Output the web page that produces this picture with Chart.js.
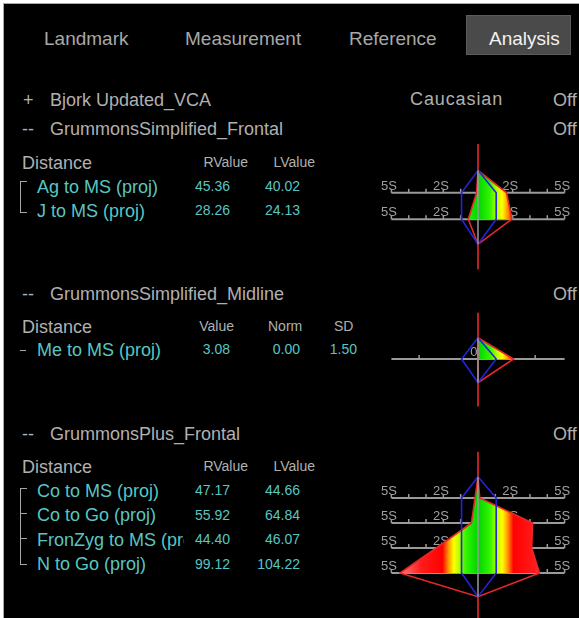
<!DOCTYPE html>
<html>
<head>
<meta charset="utf-8">
<script src="https://cdn.jsdelivr.net/npm/chart.js@4.4.0/dist/chart.umd.min.js"></script>
<style>
html, body { margin: 0; padding: 0; width: 579px; height: 618px; overflow: hidden; background: #fff; }
#panel { position: absolute; left: 3px; top: 3px; width: 576px; height: 615px; background: #000; border-left: 1px solid #a8a8a8; border-top: 1px solid #a8a8a8; }
.t { position: absolute; white-space: nowrap; font-family: "Liberation Sans", Arial, sans-serif; }
#tab { position: absolute; left: 466px; top: 15px; width: 103px; height: 38px; background: #4a4a4a; border: 1px solid #5c5c5c; }
.br { position: absolute; border-color: #a8a8a8; border-style: solid; border-width: 0; }
canvas { position: absolute; }
</style>
</head>
<body>
<div id="panel"></div>
<div id="tab"></div>
<canvas id="frontal"></canvas>
<canvas id="midline"></canvas>
<canvas id="plus"></canvas>
<script>
// texts
const tabs = ['Landmark', 'Measurement', 'Reference', 'Analysis'];
const groups = ['Bjork Updated_VCA', 'GrummonsSimplified_Frontal', 'GrummonsSimplified_Midline', 'GrummonsPlus_Frontal'];
const groupMarks = ['+', '--', '--', '--'];
const groupStates = ['Off', 'Off', 'Off', 'Off'];
const populationName = 'Caucasian';

// GrummonsSimplified_Frontal
const frontalNames = ['Ag to MS (proj)', 'J to MS (proj)'];
const frontalR = ['45.36', '28.26'];
const frontalL = ['40.02', '24.13'];
const frontalRightSD = [1.65, 1.95];
const frontalLeftSD = [-0.08, -0.56];

// GrummonsSimplified_Midline
const midlineNames = ['Me to MS (proj)'];
const midlineValue = ['3.08'];
const midlineNorm = ['0.00'];
const midlineSD = ['1.50'];
const midlineRightSD = [2.05];
const midlineLeftSD = [0];

// GrummonsPlus_Frontal
const plusNames = ['Co to MS (proj)', 'Co to Go (proj)', 'FronZyg to MS (proj)', 'N to Go (proj)'];
const plusR = ['47.17', '55.92', '44.40', '99.12'];
const plusL = ['44.66', '64.84', '46.07', '104.22'];
const plusRightSD = [0.1, 3.15, 3.1, 3.55];
const plusLeftSD = [-0.17, -0.38, -2.4, -4.5];

// norm band (in SD) and axis ticks
const normLeftSD = -0.95;
const normRightSD = 1.05;
const sdTicks = [-5, -4, -3, -2, -1, 0, 1, 2, 3, 4, 5];
const sdTickLabels = ['5S', '2S', '2S', '5S'];
const sdTickLabelAt = [-5, -2, 2, 5];
const midlineTicks = [-3.4, 3.3];
const midlineTickLabels = ['0'];
const midlineTickLabelAt = [-0.1];

const GRAY = '#b0b0b0';
const TEAL = '#58c6c2';
const AXIS = '#9a9a9a';
const RED = '#e82828';
const BLUE = '#2424d8';

function put(str, x, base, size, color, align, clip, spacing) {
    const d = document.createElement('div');
    d.className = 't';
    d.textContent = str;
    const lh = Math.round(size * 1.2);
    d.style.fontSize = size + 'px';
    d.style.lineHeight = lh + 'px';
    d.style.color = color;
    if (spacing) d.style.letterSpacing = spacing + 'px';
    d.style.top = (base - ((lh - size * 1.117) / 2 + size * 0.905)) + 'px';
    if (align === 'right') d.style.right = (579 - x) + 'px';
    else d.style.left = x + 'px';
    if (clip) { d.style.width = clip + 'px'; d.style.overflow = 'hidden'; }
    document.body.appendChild(d);
}

function bracket(top, height, mids) {
    const b = document.createElement('div');
    b.className = 'br';
    b.style.left = '20px';
    b.style.top = top + 'px';
    b.style.width = '6px';
    b.style.height = height + 'px';
    b.style.borderLeftWidth = '1px';
    if (height > 0) { b.style.borderTopWidth = '1px'; b.style.borderBottomWidth = '1px'; }
    else { b.style.borderLeftWidth = '0'; b.style.borderTopWidth = '1px'; }
    document.body.appendChild(b);
    (mids || []).forEach(y => {
        const m = document.createElement('div');
        m.className = 'br';
        m.style.left = '20px'; m.style.top = y + 'px'; m.style.width = '7px'; m.style.height = '0';
        m.style.borderTopWidth = '1px';
        document.body.appendChild(m);
    });
}

// tab bar
const tabX = [44, 185, 349, 489];
tabs.forEach((t, i) => put(t, tabX[i], 45, 19, i === 3 ? '#f2f2f2' : '#a8a8a8'));

// group headers
const groupBase = [106, 135, 300.5, 440.5];
groups.forEach((g, i) => {
    put(groupMarks[i], i === 0 ? 23 : 22, groupBase[i], 18, GRAY);
    put(g, 50, groupBase[i], 18, GRAY);
    put(groupStates[i], 553, groupBase[i], 18, GRAY);
});
put(populationName, 410, 105, 18, GRAY, null, null, 0.9);

// frontal table
put('Distance', 22, 169, 18, GRAY);
put('RValue', 248, 167, 14, GRAY, 'right');
put('LValue', 315, 167, 14, GRAY, 'right');
const frontalBase = [193, 217];
frontalNames.forEach((n, i) => {
    put(n, 37, frontalBase[i], 18, TEAL);
    put(frontalR[i], 230, frontalBase[i] - 1.5, 14, TEAL, 'right');
    put(frontalL[i], 300, frontalBase[i] - 1.5, 14, TEAL, 'right');
});
bracket(181, 30);

// midline table
put('Distance', 22, 333, 18, GRAY);
put('Value', 234, 331, 14, GRAY, 'right');
put('Norm', 268, 331, 14, GRAY);
put('SD', 334, 331, 14, GRAY);
midlineNames.forEach((n, i) => {
    put(n, 37, 356.5, 18, TEAL);
    put(midlineValue[i], 230, 354, 14, TEAL, 'right');
    put(midlineNorm[i], 300, 354, 14, TEAL, 'right');
    put(midlineSD[i], 357, 354, 14, TEAL, 'right');
});
bracket(350, 0);

// plus table
put('Distance', 22, 473, 18, GRAY);
put('RValue', 248, 471, 14, GRAY, 'right');
put('LValue', 315, 471, 14, GRAY, 'right');
const plusBase = [497, 521.5, 546, 570.5];
plusNames.forEach((n, i) => {
    put(n, 37, plusBase[i], 18, TEAL, null, 147);
    put(plusR[i], 230, plusBase[i] - 1.5, 14, TEAL, 'right');
    put(plusL[i], 300, plusBase[i] - 1.5, 14, TEAL, 'right');
});
bracket(488, 75, [513, 538]);

// colour along the SD axis for the filled area
const heatStops = [[0, '#00d400'], [0.7, '#33f500'], [1.1, '#b8ff00'], [1.4, '#ffff00'], [1.7, '#ff9a00'], [2.05, '#ff0000'], [3.3, '#ff1c1c'], [4.6, '#ff8484'], [5.6, '#ffa8a8']];
function heatFill(c) {
    const chart = c.chart;
    const xs = chart.scales.x;
    if (!xs || !chart.chartArea) return '#00d400';
    const x0 = xs.getPixelForValue(-5.6), x1 = xs.getPixelForValue(5.6);
    const g = chart.ctx.createLinearGradient(x0, 0, x1, 0);
    heatStops.forEach(([s, col]) => {
        g.addColorStop((5.6 + s) / 11.2, col);
        g.addColorStop((5.6 - s) / 11.2, col);
    });
    return g;
}

const tickText = {
    id: 'tickText',
    beforeDatasetsDraw(chart, args, opts) {
        const {ctx, scales: {x, y}} = chart;
        ctx.save();
        ctx.font = '13px "Liberation Sans", Arial, sans-serif';
        ctx.fillStyle = '#a0a0a0';
        ctx.textAlign = 'center';
        ctx.textBaseline = 'alphabetic';
        opts.rows.forEach(i => {
            opts.at.forEach((v, k) => ctx.fillText(opts.text[k], x.getPixelForValue(v) - 2.5, y.getPixelForValue(i) - 3));
        });
        ctx.restore();
    }
};

function drawDiagram(id, o) {
    const n = o.rightSD.length, last = n - 1;
    const topV = -0.85, botV = last + 0.95;
    const canvas = document.getElementById(id);
    canvas.width = 194;
    canvas.height = Math.round((n + 3) * o.rowPx);
    canvas.style.left = '381px';
    canvas.style.top = Math.round(o.rowY - 2 * o.rowPx) + 'px';
    const tickLen = 4 / o.rowPx;
    const sets = [];
    const line = (pts, color, width) => sets.push({
        data: pts, showLine: true, borderColor: color, borderWidth: width, pointRadius: 0, fill: false
    });

    const rows = [];
    for (let i = 0; i < n; i++) {
        rows.push(i);
        line([{x: -5, y: i}, {x: 5, y: i}], AXIS, 2);
        o.ticks.forEach(t => line([{x: t, y: i}, {x: t, y: i - tickLen}], AXIS, 1.5));
    }

    // gradient area between the centre line and the measured values
    [o.rightSD, o.leftSD].forEach(side => {
        sets.push({
            data: [{x: 0, y: topV}].concat(side.map((v, i) => ({x: v, y: i})), [{x: 0, y: last}]),
            showLine: true, borderWidth: 0, borderColor: 'rgba(0,0,0,0)', pointRadius: 0,
            fill: 'origin', backgroundColor: heatFill
        });
    });

    // measured outline
    const red = [{x: 0, y: topV}];
    o.rightSD.forEach((v, i) => red.push({x: v, y: i}));
    red.push({x: 0, y: botV});
    for (let i = last; i >= 0; i--) red.push({x: o.leftSD[i], y: i});
    red.push({x: 0, y: topV});
    line(red, RED, 1.6);

    // norm outline
    line([{x: 0, y: topV}, {x: normRightSD, y: 0}, {x: normRightSD, y: last}, {x: 0, y: botV},
          {x: normLeftSD, y: last}, {x: normLeftSD, y: 0}, {x: 0, y: topV}], BLUE, 1.6);

    // centre line
    line([{x: 0, y: -1.85}, {x: 0, y: topV}], RED, 1.6);
    line([{x: 0, y: botV}, {x: 0, y: last + 1.9}], RED, 1.6);
    line([{x: 0, y: topV}, {x: 0, y: botV}], AXIS, 1.5);

    sets.forEach((s, i) => { s.order = sets.length - i; });

    new Chart(canvas, {
        type: 'scatter',
        data: {datasets: sets},
        options: {
            responsive: false,
            animation: false,
            events: [],
            indexAxis: 'y',
            layout: {padding: 0},
            plugins: {
                legend: {display: false},
                tooltip: {enabled: false},
                tickText: {rows: rows, at: o.labelAt, text: o.labels}
            },
            scales: {
                x: {type: 'linear', min: -5.6, max: 5.6, display: false},
                y: {type: 'linear', min: -2, max: n + 1, reverse: true, display: false}
            }
        },
        plugins: [tickText]
    });
}

drawDiagram('frontal', {rowY: 192.5, rowPx: 26.4, rightSD: frontalRightSD, leftSD: frontalLeftSD,
    ticks: sdTicks, labels: sdTickLabels, labelAt: sdTickLabelAt});
drawDiagram('midline', {rowY: 359, rowPx: 25, rightSD: midlineRightSD, leftSD: midlineLeftSD,
    ticks: midlineTicks, labels: midlineTickLabels, labelAt: midlineTickLabelAt});
drawDiagram('plus', {rowY: 497.5, rowPx: 25, rightSD: plusRightSD, leftSD: plusLeftSD,
    ticks: sdTicks, labels: sdTickLabels, labelAt: sdTickLabelAt});
</script>
</body>
</html>
